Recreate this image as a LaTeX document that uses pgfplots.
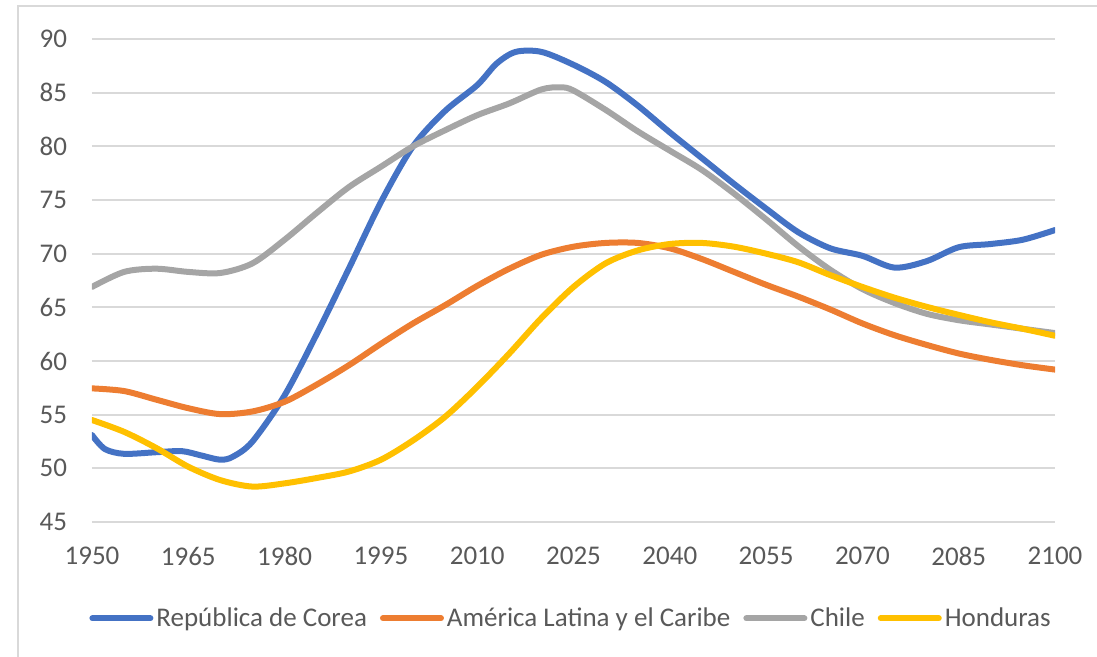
\documentclass[border=0pt]{standalone}
\usepackage{fontspec}
\setmainfont{Carlito}
\usepackage{pgfplots}
\pgfplotsset{compat=1.18}
\definecolor{cKor}{HTML}{4472C4}
\definecolor{cLat}{HTML}{ED7D31}
\definecolor{cChi}{HTML}{A5A5A5}
\definecolor{cHon}{HTML}{FFC000}
\definecolor{cGrid}{HTML}{D9D9D9}
\definecolor{cTxt}{HTML}{595959}
\begin{document}
\begin{tikzpicture}[font=\fontsize{13.5}{16}\selectfont]
\useasboundingbox (0,0) rectangle (548.5pt,328.5pt);
\draw[cGrid, line width=0.75pt] (9pt,-10pt) -- (9pt,325.5pt) -- (560pt,325.5pt);
\begin{axis}[
  at={(46pt,67.5pt)}, anchor=south west,
  scale only axis, width=481.5pt, height=241.5pt,
  xmin=1950, xmax=2100, ymin=45, ymax=90,
  xtick={1950,1965,...,2100}, ytick={45,50,...,90},
  axis line style={draw=none},
  major tick length=0pt,
  ymajorgrids, grid style={cGrid, line width=1pt},
  /pgf/number format/assume math mode=true,
  /pgf/number format/1000 sep={},
  tick label style={text=cTxt},
  xticklabel style={anchor=center, yshift=-17pt},
  yticklabel style={xshift=-9pt},
  legend columns=4,
  legend style={at={(0.498,-0.1994)}, anchor=center, draw=none, fill=none,
    text=cTxt, column sep=0pt, nodes={inner xsep=1.5pt},
    /tikz/every even column/.append style={column sep=5pt}},
  legend image code/.code={\draw[#1, line cap=round] (1.5pt,0pt) -- (30.5pt,0pt);},
  every axis plot/.append style={line width=3pt, smooth, no markers, line cap=round},
]
\addplot[cKor] coordinates {
(1950,53.1)(1952,51.8)(1955,51.35)(1960,51.5)(1964,51.6)(1967,51.2)(1970,50.8)(1972,51.1)(1975,52.5)(1980,56.8)(1985,62.5)(1990,68.6)(1995,74.8)(2000,80.0)(2005,83.3)(2010,85.7)(2013,87.7)(2016,88.8)(2020,88.8)(2025,87.6)(2030,86.0)(2035,83.8)(2040,81.3)(2045,78.9)(2050,76.5)(2055,74.2)(2060,72.0)(2065,70.5)(2070,69.8)(2075,68.7)(2080,69.3)(2085,70.6)(2090,70.9)(2095,71.3)(2100,72.2)};
\addlegendentry{República de Corea}
\addplot[cLat] coordinates {
(1950,57.45)(1955,57.2)(1960,56.4)(1965,55.6)(1970,55.05)(1975,55.3)(1980,56.2)(1985,57.8)(1990,59.6)(1995,61.6)(2000,63.5)(2005,65.2)(2010,67.0)(2015,68.6)(2020,69.9)(2025,70.65)(2030,71.0)(2035,71.0)(2040,70.5)(2045,69.5)(2050,68.3)(2055,67.1)(2060,66.0)(2065,64.8)(2070,63.5)(2075,62.4)(2080,61.5)(2085,60.7)(2090,60.1)(2095,59.6)(2100,59.2)};
\addlegendentry{América Latina y el Caribe}
\addplot[cChi] coordinates {
(1950,66.9)(1955,68.3)(1960,68.6)(1965,68.3)(1970,68.2)(1975,69.1)(1980,71.3)(1985,73.8)(1990,76.2)(1995,78.1)(2000,80.0)(2005,81.5)(2010,82.9)(2015,84.0)(2020,85.3)(2023,85.5)(2025,85.2)(2030,83.4)(2035,81.4)(2040,79.6)(2045,77.8)(2050,75.6)(2055,73.2)(2060,70.7)(2065,68.5)(2070,66.7)(2075,65.4)(2080,64.4)(2085,63.8)(2090,63.4)(2095,63.0)(2100,62.6)};
\addlegendentry{Chile}
\addplot[cHon] coordinates {
(1950,54.5)(1955,53.4)(1960,51.9)(1965,50.15)(1970,48.9)(1975,48.3)(1980,48.6)(1985,49.1)(1990,49.7)(1995,50.8)(2000,52.6)(2005,54.8)(2010,57.6)(2015,60.7)(2020,64.0)(2025,66.9)(2030,69.1)(2035,70.3)(2040,70.9)(2045,71.0)(2050,70.65)(2055,70.0)(2060,69.2)(2065,68.0)(2070,66.9)(2075,65.9)(2080,65.05)(2085,64.3)(2090,63.6)(2095,63.0)(2100,62.35)};
\addlegendentry{Honduras}
\end{axis}
\end{tikzpicture}
\end{document}
